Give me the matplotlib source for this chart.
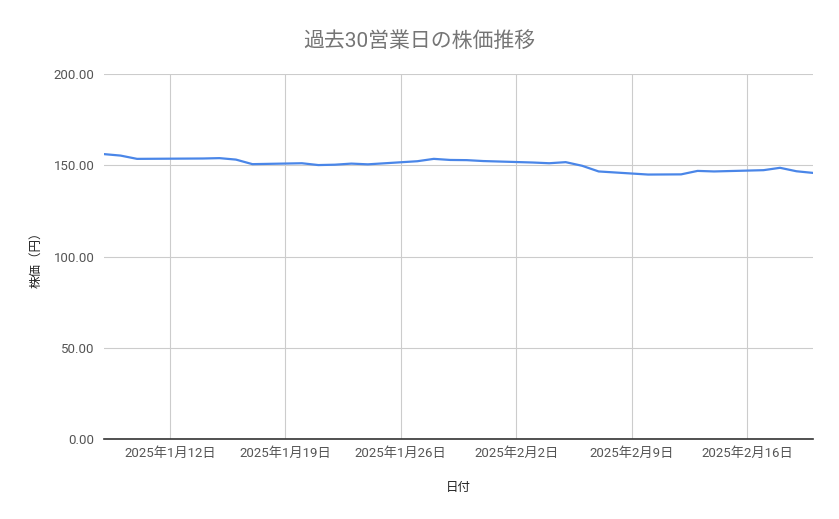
import numpy as np
import pandas as pd
import matplotlib
matplotlib.use("Agg")
import matplotlib.pyplot as plt
import matplotlib.dates as mdates

plt.rcParams['font.family'] = ['Roboto', 'Noto Sans CJK JP', 'DejaVu Sans']

# 営業日（1/13, 2/11 は祝日）
dates = [
    "2025-01-08", "2025-01-09", "2025-01-10",
    "2025-01-14", "2025-01-15", "2025-01-16", "2025-01-17",
    "2025-01-20", "2025-01-21", "2025-01-22", "2025-01-23", "2025-01-24",
    "2025-01-27", "2025-01-28", "2025-01-29", "2025-01-30", "2025-01-31",
    "2025-02-03", "2025-02-04", "2025-02-05", "2025-02-06", "2025-02-07",
    "2025-02-10", "2025-02-12", "2025-02-13", "2025-02-14",
    "2025-02-17", "2025-02-18", "2025-02-19", "2025-02-20",
]
prices = [
    156.2, 155.4, 153.6,
    153.8, 154.0, 153.2, 150.7,
    151.2, 150.2, 150.4, 151.0, 150.6,
    152.3, 153.6, 153.0, 152.9, 152.4,
    151.6, 151.2, 151.8, 149.8, 146.7,
    145.0, 145.1, 147.0, 146.7,
    147.4, 148.7, 146.8, 145.9,
]
tick_dates = ["2025-01-12", "2025-01-19", "2025-01-26", "2025-02-02", "2025-02-09", "2025-02-16"]
y_ticks = [0, 50, 100, 150, 200]

x = pd.to_datetime(dates)
ticks = pd.to_datetime(tick_dates)

fig = plt.figure(figsize=(8.39, 5.19), dpi=100)
ax = fig.add_axes([0.124, 0.154, 0.845, 0.703])

ax.plot(x, prices, color='#4a86e8', linewidth=1.6, solid_joinstyle='round')

ax.set_xlim(x[0], x[-1])
ax.set_ylim(0, 200)
ax.set_yticks(y_ticks)
ax.set_yticklabels([f"{v:.2f}" for v in y_ticks])
ax.set_xticks(ticks)
ax.set_xticklabels([f"{d.year}年{d.month}月{d.day}日" for d in ticks])

ax.grid(True, color='#cccccc', linewidth=0.8)
ax.set_axisbelow(True)
for s in ['top', 'right', 'left']:
    ax.spines[s].set_visible(False)
ax.spines['bottom'].set_color('#333333')
ax.spines['bottom'].set_linewidth(1.2)
ax.spines['bottom'].set_zorder(3)
ax.tick_params(axis='both', length=0, labelsize=9.5, labelcolor='#555555')
ax.tick_params(axis='x', pad=6)
ax.tick_params(axis='y', pad=7)

fig.text(0.5, 0.92, "過去30営業日の株価推移", ha='center', va='center',
         fontsize=15, color='#757575')
ax.set_xlabel("日付", fontsize=9, color='#222222', labelpad=15)
ax.set_ylabel("株価（円）", fontsize=9, color='#222222', labelpad=8)

fig.savefig("out.png", dpi=100)
